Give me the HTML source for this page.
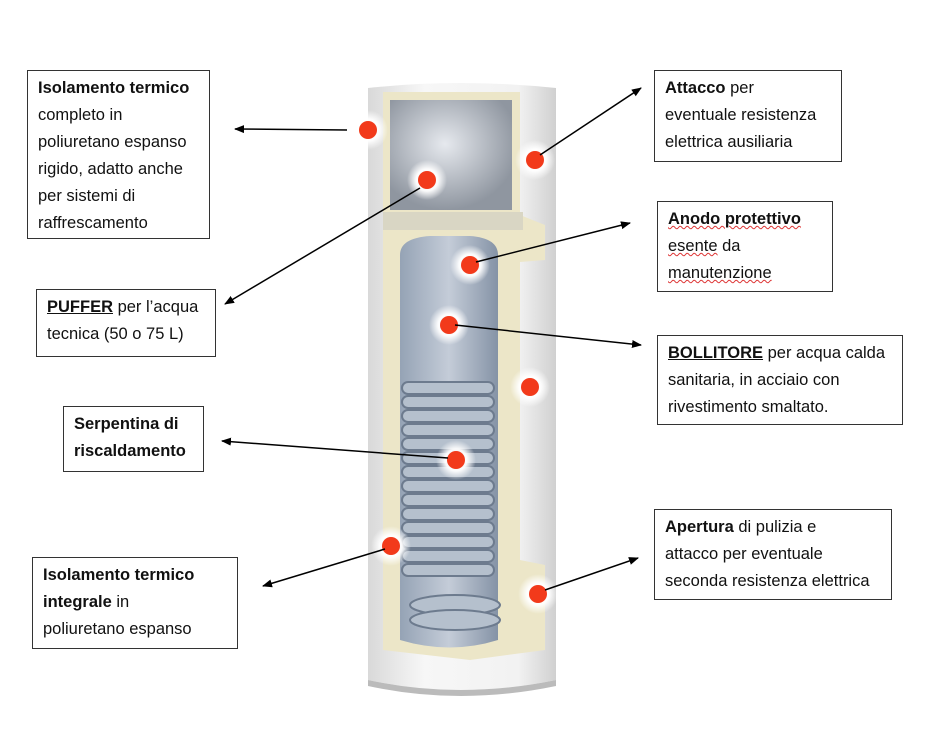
<!DOCTYPE html>
<html><head><meta charset="utf-8"><style>
html,body{margin:0;padding:0;background:#fff;width:925px;height:741px;overflow:hidden;position:relative;font-family:"Liberation Sans",sans-serif;}
.b{position:absolute;border:1px solid #333;background:#fff;box-sizing:border-box;font-size:16.5px;line-height:27px;color:#111;padding:4px 10px;white-space:nowrap;}
.b b{font-weight:bold}
.u{text-decoration:underline}
.w{text-decoration:underline wavy #d33;text-decoration-thickness:1px}
svg{position:absolute;left:0;top:0}
</style></head><body>
<svg width="925" height="741" viewBox="0 0 925 741">
<defs>
<linearGradient id="sh" x1="0" x2="1"><stop offset="0" stop-color="#d9d9d9"/><stop offset=".3" stop-color="#f7f7f7"/><stop offset=".8" stop-color="#f2f2f2"/><stop offset="1" stop-color="#d0d0d0"/></linearGradient>
<linearGradient id="tk" x1="0" x2="1"><stop offset="0" stop-color="#95a3b5"/><stop offset=".5" stop-color="#c4ccd8"/><stop offset="1" stop-color="#8593a6"/></linearGradient>
<radialGradient id="sp" cx=".45" cy=".4" r=".6"><stop offset="0" stop-color="#e6e9ee"/><stop offset="1" stop-color="#8f96a0"/></radialGradient>
<radialGradient id="halo"><stop offset=".55" stop-color="#fff" stop-opacity=".95"/><stop offset="1" stop-color="#fff" stop-opacity="0"/></radialGradient>
<marker id="a" markerWidth="10" markerHeight="8" refX="9" refY="4" orient="auto" markerUnits="userSpaceOnUse"><path d="M0,0 L10,4 L0,8 z" fill="#000"/></marker>
</defs>
<path d="M368,88 Q460,78 556,88 L556,680 Q460,700 368,680 Z" fill="url(#sh)"/>
<path d="M368,680 Q460,700 556,680 L556,686 Q460,706 368,686 Z" fill="#bbb"/>
<path d="M383,92 L520,92 L520,215 L545,225 L545,260 L520,262 L520,560 L545,565 L545,650 L470,660 L383,650 Z" fill="#ece6c8"/>
<path d="M390,100 L512,100 L512,210 L390,210 Z" fill="url(#sp)"/>
<rect x="383" y="212" width="140" height="18" fill="#d9d6c4"/>
<path d="M400,255 Q400,238 430,236 L470,236 Q498,238 498,255 L498,640 Q450,655 400,640 Z" fill="url(#tk)"/>
<g stroke="#6d7b8e" stroke-width="2" fill="#b5c0cd">
<rect x="402" y="382" width="92" height="12" rx="6"/><rect x="402" y="396" width="92" height="12" rx="6"/><rect x="402" y="410" width="92" height="12" rx="6"/><rect x="402" y="424" width="92" height="12" rx="6"/><rect x="402" y="438" width="92" height="12" rx="6"/><rect x="402" y="452" width="92" height="12" rx="6"/><rect x="402" y="466" width="92" height="12" rx="6"/><rect x="402" y="480" width="92" height="12" rx="6"/><rect x="402" y="494" width="92" height="12" rx="6"/><rect x="402" y="508" width="92" height="12" rx="6"/><rect x="402" y="522" width="92" height="12" rx="6"/><rect x="402" y="536" width="92" height="12" rx="6"/><rect x="402" y="550" width="92" height="12" rx="6"/><rect x="402" y="564" width="92" height="12" rx="6"/>
<ellipse cx="455" cy="605" rx="45" ry="10"/><ellipse cx="455" cy="620" rx="45" ry="10"/>
</g>
<g>
<circle cx="368" cy="130" r="20" fill="url(#halo)"/><circle cx="368" cy="130" r="9" fill="#f23a1b"/>
<circle cx="427" cy="180" r="20" fill="url(#halo)"/><circle cx="427" cy="180" r="9" fill="#f23a1b"/>
<circle cx="535" cy="160" r="20" fill="url(#halo)"/><circle cx="535" cy="160" r="9" fill="#f23a1b"/>
<circle cx="470" cy="265" r="20" fill="url(#halo)"/><circle cx="470" cy="265" r="9" fill="#f23a1b"/>
<circle cx="449" cy="325" r="20" fill="url(#halo)"/><circle cx="449" cy="325" r="9" fill="#f23a1b"/>
<circle cx="530" cy="387" r="20" fill="url(#halo)"/><circle cx="530" cy="387" r="9" fill="#f23a1b"/>
<circle cx="456" cy="460" r="20" fill="url(#halo)"/><circle cx="456" cy="460" r="9" fill="#f23a1b"/>
<circle cx="391" cy="546" r="20" fill="url(#halo)"/><circle cx="391" cy="546" r="9" fill="#f23a1b"/>
<circle cx="538" cy="594" r="20" fill="url(#halo)"/><circle cx="538" cy="594" r="9" fill="#f23a1b"/>
</g>
<g stroke="#000" stroke-width="1.5" marker-end="url(#a)">
<line x1="347" y1="130" x2="235" y2="129"/>
<line x1="420" y1="188" x2="225" y2="304"/>
<line x1="540" y1="155" x2="641" y2="88"/>
<line x1="476" y1="262" x2="630" y2="223"/>
<line x1="455" y1="325" x2="641" y2="345"/>
<line x1="448" y1="458" x2="222" y2="441"/>
<line x1="385" y1="549" x2="263" y2="586"/>
<line x1="545" y1="590" x2="638" y2="558"/>
</g>
</svg>
<div class="b" style="left:27px;top:70px;width:183px;height:169px;"><b>Isolamento termico</b><br>completo in<br>poliuretano espanso<br>rigido, adatto anche<br>per sistemi di<br>raffrescamento</div>
<div class="b" style="left:36px;top:289px;width:180px;height:68px;"><b class="u">PUFFER</b> per l’acqua<br>tecnica (50 o 75 L)</div>
<div class="b" style="left:63px;top:406px;width:141px;height:66px;"><b>Serpentina di<br>riscaldamento</b></div>
<div class="b" style="left:32px;top:557px;width:206px;height:92px;"><b>Isolamento termico<br>integrale</b> in<br>poliuretano espanso</div>
<div class="b" style="left:654px;top:70px;width:188px;height:92px;"><b>Attacco</b> per<br>eventuale resistenza<br>elettrica ausiliaria</div>
<div class="b" style="left:657px;top:201px;width:176px;height:91px;"><b class="w">Anodo protettivo</b><br><span class="w">esente</span> da<br><span class="w">manutenzione</span></div>
<div class="b" style="left:657px;top:335px;width:246px;height:90px;"><b class="u">BOLLITORE</b> per acqua calda<br>sanitaria, in acciaio con<br>rivestimento smaltato.</div>
<div class="b" style="left:654px;top:509px;width:238px;height:91px;"><b>Apertura</b> di pulizia e<br>attacco per eventuale<br>seconda resistenza elettrica</div>
</body></html>
